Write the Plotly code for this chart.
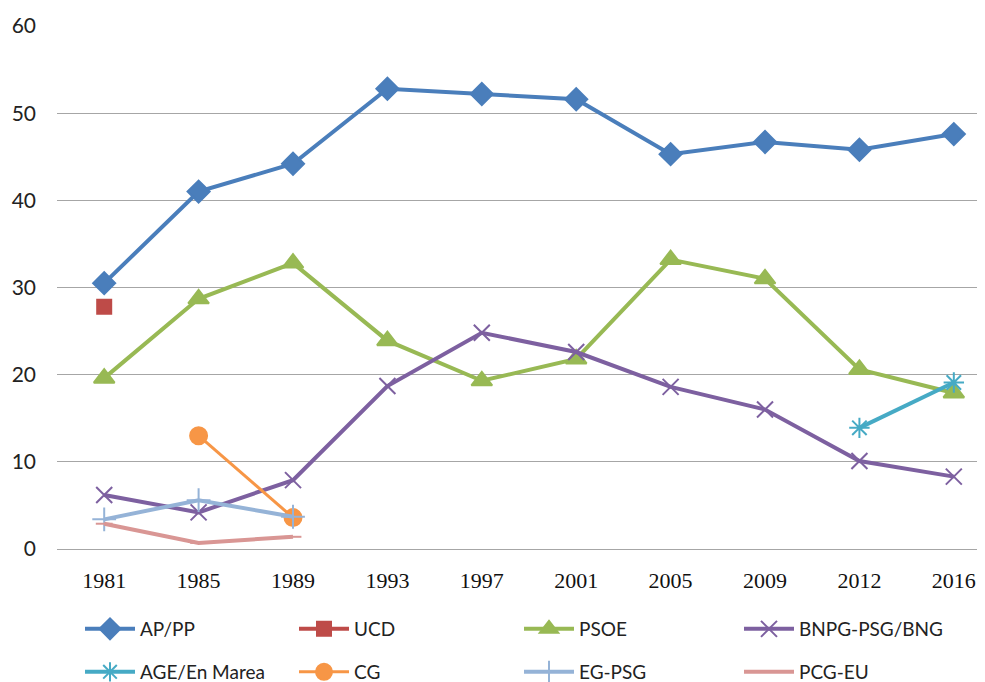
import plotly.graph_objects as go

years = ["1981", "1985", "1989", "1993", "1997", "2001", "2005", "2009", "2012", "2016"]

ap_pp = [30.5, 41.0, 44.2, 52.8, 52.2, 51.6, 45.3, 46.7, 45.8, 47.6]
ucd = [27.8, None, None, None, None, None, None, None, None, None]
psoe = [19.6, 28.7, 32.8, 23.9, 19.3, 21.8, 33.2, 31.0, 20.6, 17.9]
bng = [6.2, 4.2, 7.9, 18.7, 24.8, 22.6, 18.6, 16.0, 10.1, 8.3]
age = [None, None, None, None, None, None, None, None, 13.9, 19.1]
cg = [None, 13.0, 3.6, None, None, None, None, None, None, None]
eg_psg = [3.4, 5.6, 3.7, None, None, None, None, None, None, None]
pcg_eu = [2.9, 0.7, 1.4, None, None, None, None, None, None, None]

series = [
    ("AP/PP", ap_pp, "#4A7EBB", "diamond", 17, 4),
    ("UCD", ucd, "#BE4B48", "square", 14, 4),
    ("PSOE", psoe, "#98B954", "triangle-up", 18, 4),
    ("BNPG-PSG/BNG", bng, "#7D60A0", "x-thin", 16, 4),
    ("AGE/En Marea", age, "#46AAC5", "asterisk", 17, 4),
    ("CG", cg, "#F79646", "circle", 17, 3),
    ("EG-PSG", eg_psg, "#95B3D7", "cross-thin", 17, 4),
    ("PCG-EU", pcg_eu, "#D99694", "line-ew", 12, 4),
]

# legend slots (figure pixels): x of legend box, y of row centre
legend_x = [72, 286, 511, 731]
legend_y = [621, 664]

fig = go.Figure()
legend_layouts = {}
for i, (name, vals, color, sym, size, w) in enumerate(series):
    key = "legend" if i == 0 else f"legend{i + 1}"
    fig.add_trace(go.Scatter(
        x=years, y=vals, name=name, mode="lines+markers",
        line=dict(color=color, width=w),
        marker=dict(symbol=sym, size=size, color=color,
                    line=dict(color=color, width=2)),
        connectgaps=False, legend=key,
    ))
    legend_layouts[key] = dict(
        orientation="h", xanchor="left", yanchor="middle",
        xref="container", yref="container",
        x=legend_x[i % 4] / 985, y=1 - legend_y[i // 4] / 682,
        font=dict(family="Lato, Open Sans, sans-serif", size=19, color="#222"),
        itemwidth=50, bgcolor="rgba(0,0,0,0)",
    )

fig.update_layout(
    width=985, height=682,
    margin=dict(l=49, r=0, t=18, b=141, autoexpand=False),
    plot_bgcolor="white", paper_bgcolor="white",
    showlegend=True,
    xaxis=dict(
        type="category", range=[-0.5, 9.415],
        showgrid=False, showline=False, ticks="", ticklabelstandoff=16,
        tickfont=dict(family="Liberation Serif, Times New Roman, serif", size=22, color="#111"),
    ),
    yaxis=dict(
        range=[0, 60], dtick=10, showgrid=True, gridcolor="#A6A6A6", gridwidth=1,
        zeroline=True, zerolinecolor="#A6A6A6", zerolinewidth=1,
        showline=False, ticks="", ticklabelstandoff=20,
        tickfont=dict(family="Lato, Open Sans, sans-serif", size=21, color="#222"),
    ),
    **legend_layouts,
)

fig.write_html("out.html")
